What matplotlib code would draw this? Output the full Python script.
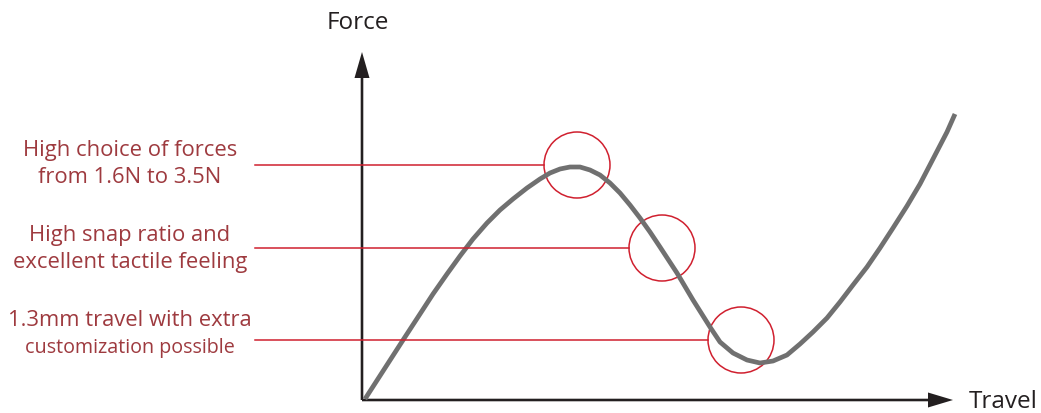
import matplotlib
matplotlib.use("Agg")
import matplotlib.pyplot as plt
from matplotlib.patches import Circle

# force / travel curve of the snap dome (offsets from the axis origin)
curve_travel = [3, 23, 43, 58, 71, 85, 98, 111, 125, 138, 151, 165, 178,
                188, 198, 208, 218, 228, 238, 248, 258, 268, 278, 288, 298,
                315, 331, 348, 358, 371, 385, 398, 411, 425, 438, 451, 465,
                478, 491, 505, 518, 531, 545, 558, 571, 585, 593]
curve_force = [1, 32, 63, 86, 106, 126, 144, 161, 177, 190, 201, 212, 221,
               227, 231, 233, 233, 230, 225, 217, 207, 195, 182, 168, 153,
               127, 100, 73, 58, 47, 40, 37, 39, 45, 56, 68, 82,
               98, 115, 133, 152, 172, 194, 216, 241, 268, 286]

# highlighted regions on the curve
mark_travel = [215, 300, 379]
mark_force = [235, 152, 60]
mark_radius = 33

label_lines = [
    ("High choice of forces", "from 1.6N to 3.5N"),
    ("High snap ratio and", "excellent tactile feeling"),
    ("1.3mm travel with extra", "customization possible"),
]
first_baseline = [244, 159, 74]
second_baseline = [217, 132, 47]

x_label = "Travel"
y_label = "Force"

TEXT_RED = "#9e3a3f"
LINE_RED = "#d0202f"
AXIS_COL = "#231f20"
CURVE_COL = "#707070"

plt.rcParams['font.family'] = ['Open Sans', 'DejaVu Sans']

fig = plt.figure(figsize=(10.41, 4.13), dpi=100)
ax = fig.add_axes([0, 0, 1, 1])
ax.set_xlim(-362, 1041 - 362)
ax.set_ylim(-13, 400)
ax.axis('off')

# axes arrows
ax.arrow(0, 0, 0, 348, width=2.6, head_width=15, head_length=26,
         length_includes_head=True, color=AXIS_COL, lw=0)
ax.arrow(0, 0, 591, 0, width=2.6, head_width=15, head_length=25,
         length_includes_head=True, color=AXIS_COL, lw=0)
ax.text(-4, 377, y_label, ha='center', va='center', fontsize=17.5, color=AXIS_COL)
ax.text(607, -2, x_label, ha='left', va='center', fontsize=17.5, color=AXIS_COL)

ax.plot(curve_travel, curve_force, color=CURVE_COL, lw=3.4,
        solid_capstyle='butt', solid_joinstyle='round')

for i in range(3):
    cx, cy = mark_travel[i], mark_force[i]
    ax.add_patch(Circle((cx, cy), mark_radius, fill=False,
                        edgecolor=LINE_RED, lw=1.1))
    ax.plot([-107, cx - mark_radius], [cy, cy], color=LINE_RED, lw=1.1)
    l1, l2 = label_lines[i]
    ax.text(-232, first_baseline[i], l1, ha='center', va='baseline',
            fontsize=15.8, color=TEXT_RED)
    ax.text(-232, second_baseline[i], l2, ha='center', va='baseline',
            fontsize=14.2 if i == 2 else 15.8, color=TEXT_RED)

fig.savefig("out.png", dpi=100)
